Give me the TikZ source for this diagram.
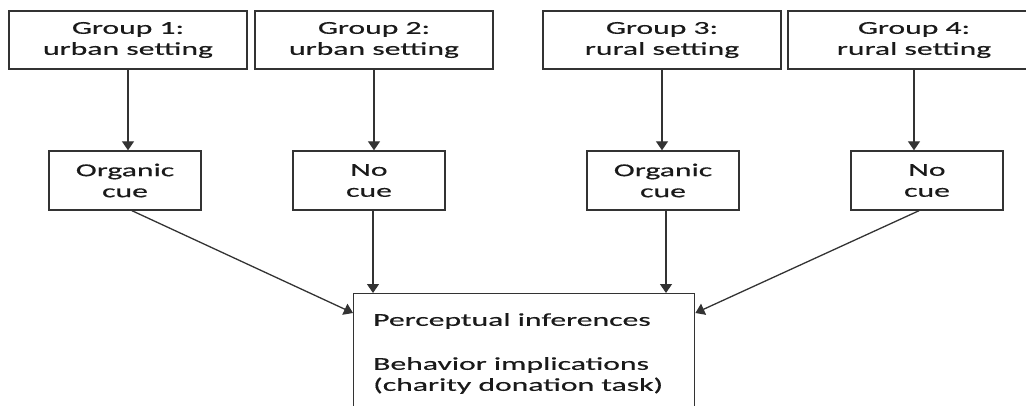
\documentclass[tikz,border=0pt]{standalone}
\usepackage{fontspec}
\setmainfont{Carlito}[FakeStretch=1.74, FakeBold=0.5]
\usetikzlibrary{arrows.meta,calc}

\definecolor{ink}{HTML}{1A1A1A}
\definecolor{edge}{HTML}{333333}

\tikzset{
  box/.style={draw=edge, line width=1.4pt, rectangle, inner sep=0pt,
    align=center, text=ink, font=\fontsize{18.2}{21}\selectfont},
  % the strut lowers the two-line label slightly inside its frame
  labelled/.style={box, execute at begin node={\rule{0pt}{19pt}}},
  groupbox/.style={labelled, minimum height=58pt},
  cuebox/.style={labelled, minimum width=152pt, minimum height=59pt},
  flow/.style={draw=edge, line width=1.3pt,
    -{Triangle[width=12pt,length=9pt]}},
}

\begin{document}
\begin{tikzpicture}[x=1pt, y=-1pt]
  \useasboundingbox (0,0) rectangle (1026,405);
  \clip (0,0) rectangle (1026,405);

  % the four experimental groups
  \node[groupbox, minimum width=238pt] (g1) at (128,40) {Group 1:\\urban setting};
  \node[groupbox, minimum width=238pt] (g2) at (374,40) {Group 2:\\urban setting};
  \node[groupbox, minimum width=238pt] (g3) at (662,40) {Group 3:\\rural setting};
  \node[groupbox, minimum width=252pt] (g4) at (914,40) {Group 4:\\rural setting};

  % cue manipulation
  \node[cuebox] (m1) at (125,180.5) {Organic\\cue};
  \node[cuebox] (m2) at (369,180.5) {No\\cue};
  \node[cuebox] (m3) at (663,180.5) {Organic\\cue};
  \node[cuebox] (m4) at (927,180.5) {No\\cue};

  % outcome measures
  \node[box, minimum width=341pt, minimum height=150pt, anchor=north west]
    (out) at (353,293) {};
  \node[anchor=north west, align=left, inner sep=0pt, text=ink,
        font=\fontsize{18.2}{21}\selectfont]
    (outtext) at ($(out.north west)+(20,20)$)
    {Perceptual inferences\\[23pt]Behavior implications\\(charity donation task)};

  % attachment points of the connectors
  \coordinate (inL) at ($(out.north west)+(0,20)$);
  \coordinate (inR) at ($(out.north east)+(0,20)$);
  \coordinate (m1out) at ($(m1.south)+(7,0)$);
  \coordinate (m2out) at ($(m2.south)+(4,0)$);
  \coordinate (m3out) at ($(m3.south)+(3,0)$);
  \coordinate (m4out) at ($(m4.south)+(-8,0)$);

  % connectors
  \draw[flow] (g1.south) -- (g1.south |- m1.north);
  \draw[flow] (g2.south) -- (g2.south |- m2.north);
  \draw[flow] (g3.south) -- (g3.south |- m3.north);
  \draw[flow] (g4.south) -- (g4.south |- m4.north);

  \draw[flow] (m1out) -- (inL);
  \draw[flow] (m2out) -- (m2out |- out.north);
  \draw[flow] (m3out) -- (m3out |- out.north);
  \draw[flow] (m4out) -- (inR);
\end{tikzpicture}
\end{document}
